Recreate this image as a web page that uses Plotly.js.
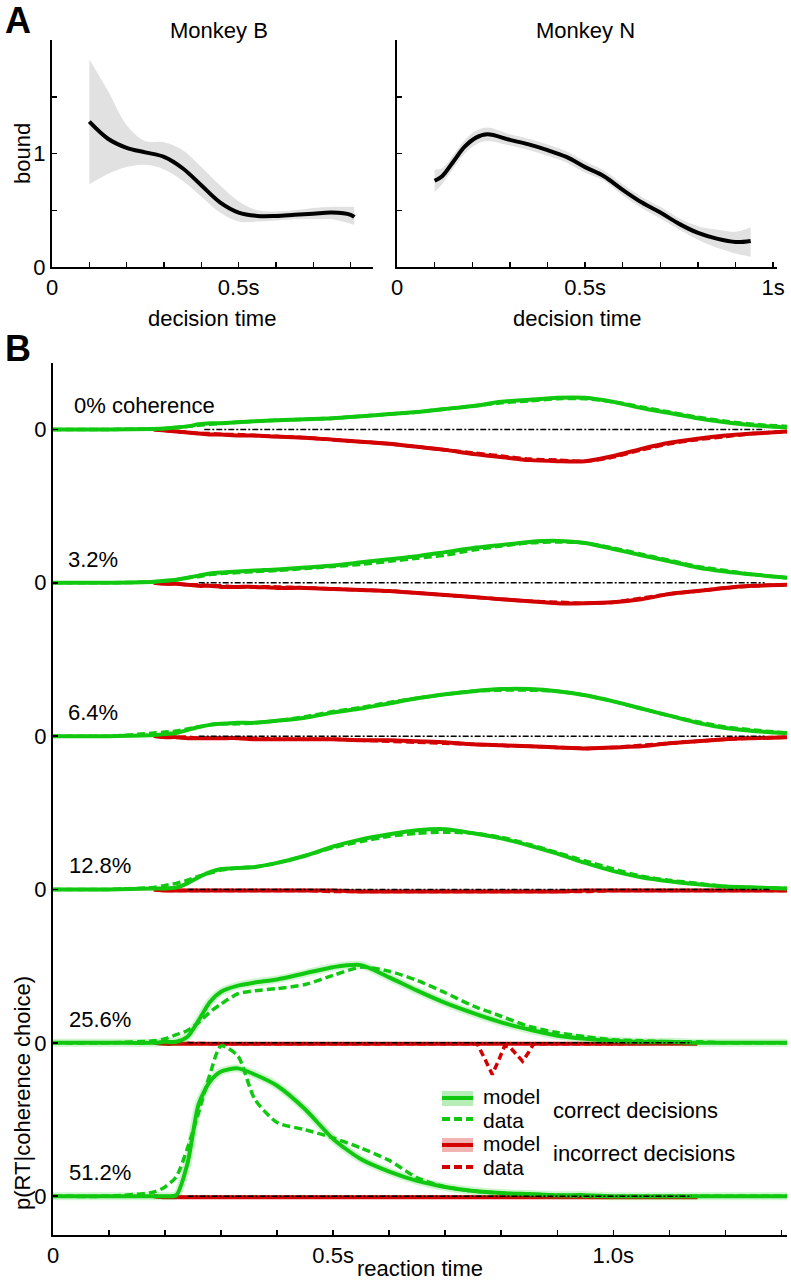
<!DOCTYPE html>
<html>
<head>
<meta charset="utf-8">
<script src="https://cdn.plot.ly/plotly-3.0.1.min.js"></script>
<style>
  html, body { margin: 0; padding: 0; background: #fff; }
  #chart { width: 791px; height: 1280px; }
</style>
</head>
<body>
<div id="chart"></div>
<script>
// --- panel A: decision bound over time ---
const tB = [0.1, 0.15, 0.2, 0.25, 0.3, 0.35, 0.4, 0.45, 0.5, 0.55, 0.6, 0.65, 0.7, 0.75, 0.8, 0.81];
const boundB = [1.28, 1.13, 1.05, 1.01, 0.97, 0.87, 0.72, 0.57, 0.48, 0.45, 0.45, 0.46, 0.47, 0.48, 0.46, 0.44];
const boundBlo = [0.73, 0.82, 0.88, 0.90, 0.86, 0.76, 0.62, 0.48, 0.40, 0.40, 0.41, 0.42, 0.42, 0.42, 0.38, 0.37];
const boundBhi = [1.83, 1.55, 1.25, 1.11, 1.10, 1.03, 0.88, 0.72, 0.58, 0.50, 0.49, 0.50, 0.52, 0.53, 0.53, 0.53];

const tN = [0.1, 0.12, 0.15, 0.18, 0.21, 0.24, 0.3, 0.35, 0.4, 0.45, 0.5, 0.55, 0.6, 0.65, 0.7, 0.75, 0.8, 0.85, 0.9, 0.94];
const boundN = [0.76, 0.80, 0.93, 1.06, 1.14, 1.17, 1.12, 1.08, 1.03, 0.97, 0.88, 0.80, 0.68, 0.57, 0.48, 0.38, 0.30, 0.25, 0.22, 0.23];
const boundNlo = [0.66, 0.73, 0.87, 1.00, 1.08, 1.11, 1.07, 1.03, 0.98, 0.92, 0.83, 0.76, 0.63, 0.52, 0.43, 0.33, 0.24, 0.17, 0.12, 0.09];
const boundNhi = [0.86, 0.87, 0.99, 1.12, 1.20, 1.23, 1.17, 1.13, 1.08, 1.02, 0.93, 0.85, 0.73, 0.62, 0.53, 0.43, 0.36, 0.33, 0.31, 0.35];

// --- panel B: RT distributions (arbitrary density units, 150 between rows) ---
const cohLabels = ['0% coherence', '3.2%', '6.4%', '12.8%', '25.6%', '51.2%'];
const rt = [0, 0.1, 0.18, 0.2, 0.22, 0.24, 0.26, 0.28, 0.3, 0.33, 0.36, 0.4, 0.45, 0.5, 0.55, 0.6, 0.65, 0.7, 0.75, 0.8, 0.85, 0.9, 0.95, 1.0, 1.05, 1.1, 1.15, 1.2, 1.25, 1.31];

const corrModel = [
  [0,0,0.5,1,2,3,5,6,6,7,8,9,10,11,13,15,17,20,23,27,29,31,31,27,21,16,11,7,4,2],
  [0,0,1,2,3,5,7,9,10,11,12,13,15,17,20,23,26,30,34,37,40,41,39,33,27,21,15,11,8,5],
  [0,0,1,2,3,6,9,11,12,13,13,15,18,23,27,32,37,41,44,46,46,44,40,34,27,20,13,8,5,3],
  [0,0,1,1,2,6,12,17,20,21,22,26,33,42,49,54,58,59,55,50,43,35,26,18,12,8,5,3,2,1],
  [0,0,0,1,1,6,22,40,50,56,59,62,68,74,76,64,51,39,29,20,13,7,4,2,1,1,0,0,0,0],
  [0,0,0,0,1,32,90,112,122,125,119,108,85,56,36,24,15,9,5,3,2,1,1,0,0,0,0,0,0,0]
];
const corrData = [
  [0,0,0.5,1,2,3,4,5,6,7,8,9,10,11,13,15,17,20,23,26,28,30,30,27,22,17,12,8,5,3],
  [0,0,1,2,3,5,6,8,9,10,11,12,14,16,18,21,24,27,32,36,39,40,39,34,28,22,16,12,8,5],
  [0,0,3,4,5,7,9,11,12,12,13,15,19,24,28,33,37,41,44,45,45,44,40,34,27,20,14,9,6,3],
  [0,0,2,4,6,9,13,16,19,21,22,26,33,41,47,52,55,56,55,51,44,36,28,20,13,9,6,3,2,1],
  [0,0,2,4,8,12,20,30,38,48,51,53,57,66,74,70,61,49,36,26,16,10,6,3,2,1,1,0,0,0],
  [0,0,4,9,19,47,82,119,147,137,95,72,65,57,47,35,18,9,5,3,2,1,0,0,0,0,0,0,0,0]
];
const errModel = [
  [null,null,0,-1,-2,-3,-4,-5,-5,-6,-6,-7,-8,-10,-12,-14,-17,-20,-24,-27,-30,-31,-31,-26,-19,-13,-9,-6,-4,-2],
  [null,null,0,-1,-1,-2,-3,-3,-4,-4,-4,-5,-5,-6,-7,-8,-10,-12,-14,-16,-18,-20,-20,-19,-16,-11,-8,-5,-3,-2],
  [null,null,0,-1,-1,-2,-2,-2,-2,-2,-3,-3,-3,-3,-4,-4,-5,-6,-8,-9,-10,-11,-12,-11,-10,-7,-5,-3,-2,-1],
  [null,null,0,-1,-1,-1,-1,-1,-1,-1,-1,-1,-1,-1,-2,-2,-2,-2,-2,-2,-2,-2,-1,-1,-1,-1,-1,-1,-1,-1],
  [null,null,0,-1,-1,-1,-1,-1,-1,-1,-1,-1,-1,-1,-1,-1,-1,-1,-1,-1,-1,-1,-1,-1,-1,-1,-1,null,null,null],
  [null,null,0,-1,-1,-1,-1,-1,-1,-1,-1,-1,-1,-1,-1,-1,-1,-1,-1,-1,-1,-1,-1,-1,-1,-1,-1,null,null,null]
];
const errData = [
  [null,null,0,-1,-2,-3,-4,-4,-5,-5,-6,-7,-8,-10,-12,-14,-17,-20,-23,-26,-29,-30,-31,-27,-20,-14,-10,-7,-4,-2],
  [null,null,0,-1,-1,-2,-2,-3,-3,-4,-4,-4,-5,-6,-7,-8,-10,-12,-14,-16,-18,-19,-20,-19,-15,-11,-8,-5,-3,-2],
  [null,null,0,-1,-1,-1,-2,-2,-2,-2,-2,-3,-3,-3,-4,-5,-6,-7,-8,-9,-10,-11,-12,-11,-9,-7,-5,-3,-2,-1],
  [null,null,0,-1,-1,-1,-1,-1,-1,-1,-1,-1,-1,-2,-2,-2,-2,-2,-2,-2,-2,-2,-2,-1,-1,-1,-1,-1,-1,-1],
  null,
  [null,null,0,-1,-1,-1,-1,-1,-1,-1,-1,-1,-1,-1,-1,-1,-1,-1,-1,-1,-1,-1,-1,-1,-1,-1,-1,null,null,null]
];
// 25.6% error data has two sharp dips, sampled on its own grid
const rtDip = [0.18, 0.3, 0.5, 0.7, 0.74, 0.757, 0.77, 0.784, 0.797, 0.806, 0.815, 0.826, 0.838, 0.848, 0.858, 0.9, 1.0, 1.14];
const errDip = [0, -1, -1, -1, -1, -1, -15, -31, -15, -3, -4, -11, -18, -10, -1, -1, -1, 0];

const zeroStart = [0.27, 0.26, 0.26, 0.24, 0.24, 0.24];
const zeroEnd = [1.27, 1.27, 1.27, 1.28, 1.14, 1.14];

const GREEN = '#10c810', RED = '#d20000';
const W = 791, H = 1280;
const px = x => x / W, py = y => 1 - y / H;
const ROW = 150;

const traces = [];

// panel A bands + curves
function boundTraces(t, lo, hi, mid, xa, ya) {
  traces.push({x: t, y: hi, xaxis: xa, yaxis: ya, mode: 'lines', line: {width: 0, shape: 'spline'}, hoverinfo: 'skip'});
  traces.push({x: t, y: lo, xaxis: xa, yaxis: ya, mode: 'lines', line: {width: 0, shape: 'spline'},
    fill: 'tonexty', fillcolor: '#e1e1e1', hoverinfo: 'skip'});
  traces.push({x: t, y: mid, xaxis: xa, yaxis: ya, mode: 'lines', line: {color: '#000', width: 4, shape: 'spline'}});
}
boundTraces(tB, boundBlo, boundBhi, boundB, 'x', 'y');
boundTraces(tN, boundNlo, boundNhi, boundN, 'x2', 'y2');

// panel B rows
const shift = (arr, off) => arr.map(v => v === null ? null : v + off);
const solid = c => ({color: c, width: 4, shape: 'spline', smoothing: 0.7});
const dashed = c => ({color: c, width: 3.5, dash: '8px,4px', shape: 'spline', smoothing: 0.7});

for (let k = 0; k < 6; k++) {
  const off = (5 - k) * ROW;
  traces.push({x: rt, y: shift(errModel[k], off), xaxis: 'x3', yaxis: 'y3', mode: 'lines', line: solid(RED)});
  if (errData[k]) {
    traces.push({x: rt, y: shift(errData[k], off), xaxis: 'x3', yaxis: 'y3', mode: 'lines', line: dashed(RED)});
  } else {
    traces.push({x: rtDip, y: shift(errDip, off), xaxis: 'x3', yaxis: 'y3', mode: 'lines',
      line: {color: RED, width: 3.5, dash: '7px,4px'}});
  }
  // faint model confidence band, only noticeable on the high-coherence rows
  if (k >= 4) {
    traces.push({x: rt, y: shift(corrModel[k], off), xaxis: 'x3', yaxis: 'y3', mode: 'lines',
      line: {color: 'rgba(16,200,16,0.2)', width: 8, shape: 'spline', smoothing: 0.7}});
  }
  traces.push({x: rt, y: shift(corrModel[k], off), xaxis: 'x3', yaxis: 'y3', mode: 'lines', line: solid(GREEN)});
  traces.push({x: rt, y: shift(corrData[k], off), xaxis: 'x3', yaxis: 'y3', mode: 'lines', line: dashed(GREEN)});
  traces.push({x: [zeroStart[k], zeroEnd[k]], y: [off, off], xaxis: 'x3', yaxis: 'y3', mode: 'lines',
    line: {color: '#000', width: 1.5, dash: '6px,2px,2px,2px'}});
}

const axisStyle = {
  showline: true, linecolor: '#000', linewidth: 2, ticks: 'inside', ticklen: 5, tickwidth: 1.5,
  tickcolor: '#000', showgrid: false, zeroline: false, fixedrange: true
};

const ann = [];
const txt = (x, y, text, extra) => ann.push(Object.assign({xref: 'paper', yref: 'paper', x: px(x), y: py(y),
  text: text, showarrow: false, xanchor: 'center', yanchor: 'middle'}, extra || {}));

txt(18, 20, '<b>A</b>', {font: {size: 36}});
txt(18, 348, '<b>B</b>', {font: {size: 36}});
txt(219, 30, 'Monkey B');
txt(585, 30, 'Monkey N');
txt(22, 154, 'bound', {textangle: -90});
txt(212, 318, 'decision time');
txt(577, 318, 'decision time');
txt(420, 1268, 'reaction time');
txt(22, 1093, 'p(RT|coherence choice)', {textangle: -90});

// coherence labels on the rows
const labelX = [0.034, 0.023, 0.023, 0.025, 0.025, 0.025];
cohLabels.forEach((s, k) => ann.push({xref: 'x3', yref: 'y3', x: labelX[k], y: (5 - k) * ROW + 23,
  text: s, showarrow: false, xanchor: 'left', yanchor: 'middle'}));

// legend
const lg = {xanchor: 'left', font: {size: 21}, borderpad: 0};
txt(482, 1096, 'model', lg);
txt(482, 1120, 'data', lg);
txt(551, 1110, 'correct decisions', {xanchor: 'left'});
txt(482, 1143, 'model', lg);
txt(482, 1167, 'data', lg);
txt(551, 1153, 'incorrect decisions', {xanchor: 'left'});

const pl = (x0, y0, x1, y1, line) => ({type: 'line', xref: 'paper', yref: 'paper',
  x0: px(x0), y0: py(y0), x1: px(x1), y1: py(y1), line: line});
const shapes = [
  {type: 'rect', xref: 'paper', yref: 'paper', x0: px(442), x1: px(473), y0: py(1106), y1: py(1091),
    fillcolor: 'rgba(16,200,16,0.3)', line: {width: 0}},
  pl(442, 1098, 473, 1098, {color: GREEN, width: 4}),
  pl(442, 1119, 473, 1119, {color: GREEN, width: 4, dash: '8px,4px'}),
  {type: 'rect', xref: 'paper', yref: 'paper', x0: px(442), x1: px(473), y0: py(1152), y1: py(1138),
    fillcolor: 'rgba(210,0,0,0.3)', line: {width: 0}},
  pl(442, 1145, 473, 1145, {color: RED, width: 4}),
  pl(442, 1167, 473, 1167, {color: RED, width: 4, dash: '8px,4px'})
];

const layout = {
  width: W, height: H,
  margin: {l: 0, r: 0, t: 0, b: 0},
  showlegend: false,
  paper_bgcolor: '#fff', plot_bgcolor: '#fff',
  font: {family: 'Liberation Sans, Arial, sans-serif', size: 22, color: '#000'},
  xaxis: Object.assign({}, axisStyle, {domain: [px(52), px(373)], range: [0, 0.86], anchor: 'y',
    tickvals: [0, 0.1, 0.2, 0.3, 0.4, 0.5, 0.6, 0.7, 0.8], ticktext: ['0', '', '', '', '', '0.5s', '', '', '']}),
  yaxis: Object.assign({}, axisStyle, {domain: [py(267), py(40)], range: [0, 2.0], anchor: 'x',
    tickvals: [0, 0.5, 1, 1.5], ticktext: ['0', '', '1', '']}),
  xaxis2: Object.assign({}, axisStyle, {domain: [px(397), px(777)], range: [0, 1.01], anchor: 'y2',
    tickvals: [0, 0.1, 0.2, 0.3, 0.4, 0.5, 0.6, 0.7, 0.8, 0.9, 1.0],
    ticktext: ['0', '', '', '', '', '0.5s', '', '', '', '', '1s']}),
  yaxis2: Object.assign({}, axisStyle, {domain: [py(267), py(40)], range: [0, 2.0], anchor: 'x2',
    tickvals: [0, 0.5, 1, 1.5], ticktext: ['', '', '', '']}),
  xaxis3: Object.assign({}, axisStyle, {domain: [px(53), px(787)], range: [0, 1.31], anchor: 'y3',
    tickvals: [0, 0.1, 0.2, 0.3, 0.4, 0.5, 0.6, 0.7, 0.8, 0.9, 1.0, 1.1, 1.2, 1.3],
    ticktext: ['0', '', '', '', '', '0.5s', '', '', '', '', '1.0s', '', '', '']}),
  yaxis3: Object.assign({}, axisStyle, {domain: [py(1235), py(363)], range: [-38, 815], anchor: 'x3',
    tickvals: [0, 150, 300, 450, 600, 750], ticktext: ['0', '0', '0', '0', '0', '0']}),
  annotations: ann,
  shapes: shapes
};

Plotly.newPlot('chart', traces, layout, {staticPlot: true, displayModeBar: false});
</script>
</body>
</html>
